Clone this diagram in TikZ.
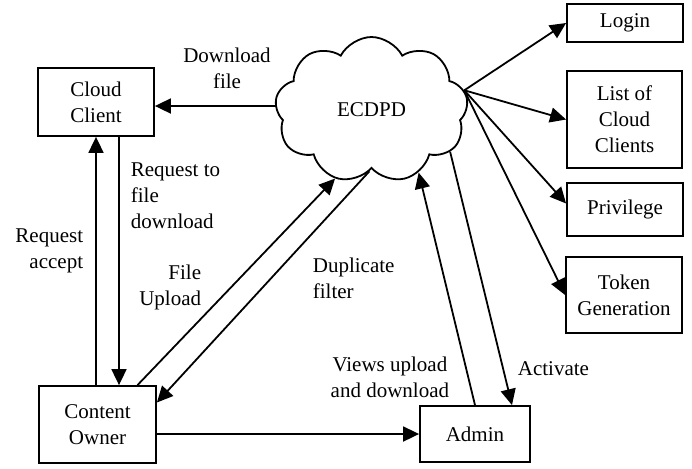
\documentclass[tikz,border=0pt]{standalone}
\usepackage{fontspec}
\setmainfont{Liberation Serif}
\usetikzlibrary{arrows.meta,shapes.symbols}

\tikzset{
  box/.style={draw, align=center, inner sep=2pt},
  lbl/.style={inner sep=0pt},
}

\begin{document}
\begin{tikzpicture}[x=0.5pt, y=-0.5pt, line width=0.9pt,
    >={Triangle[length=8pt,width=7.5pt]},
    font=\fontsize{10.5}{13}\selectfont]
  \useasboundingbox (0,0) rectangle (692,468);

  % the server
  \node[cloud, draw, cloud puffs=9, cloud puff arc=125, cloud ignores aspect,
        minimum width=96.5pt, minimum height=73pt] (ecdpd) at (371.5,110) {ECDPD};

  \node[box, minimum width=58pt, minimum height=34pt] (cc) at (96,102) {Cloud\\Client};
  \node[box, minimum width=58.5pt, minimum height=38.5pt] (co) at (97.5,424.5) {Content\\Owner};
  \node[box, minimum width=55pt, minimum height=28pt] (admin) at (475,434) {Admin};

  \node[box, minimum width=58pt, minimum height=19pt] (login) at (625,23) {Login};
  \node[box, minimum width=57.5pt, minimum height=48.5pt] (list) at (624.5,119.5) {List of\\Cloud\\Clients};
  \node[box, minimum width=58pt, minimum height=26.5pt] (priv) at (625,209.5) {Privilege};
  \node[box, minimum width=58pt, minimum height=38pt] (token) at (624,295) {Token\\Generation};

  \node[lbl, align=center] (dltxt) at (227,68) {Download\\file};
  \node[lbl, align=left, anchor=west] (reqtxt) at (130,196) {Request to\\file\\download};
  \node[lbl, align=right, anchor=east] (acctxt) at (84,251) {Request\\accept};
  \node[lbl, align=right, anchor=east] (futxt) at (202,287) {File\\Upload};
  \node[lbl, align=left, anchor=west] (duptxt) at (312,278) {Duplicate\\filter};
  \node[lbl, align=center, anchor=east] (viewtxt) at (450,377) {Views upload\\and download};
  \node[lbl, anchor=west] (acttxt) at (517,369) {Activate};

  \draw[->] ([yshift=2pt]ecdpd.west) -- ([yshift=2pt]ecdpd.west -| cc.east);
  \draw[->] (co.north -| cc.south) -- (cc.south);
  \draw[->] ([xshift=11.5pt]cc.south) -- ([xshift=11.5pt]cc.south |- co.north);
  \draw[->] ([xshift=20pt]co.north) -- (ecdpd.242);
  \draw[->] (ecdpd.268) -- ([yshift=11pt]co.east);
  \draw[->] (co.east |- admin.west) -- (admin.west);
  \draw[->] (admin.north) -- (ecdpd.307);
  \draw[->] (ecdpd.332) -- ([xshift=18.5pt]admin.north);

  % outgoing modules
  \coordinate (hub) at (ecdpd.12);
  \draw[->] (hub) -- (login.west);
  \draw[->] (hub) -- (list.west);
  \draw[->] (hub) -- ([yshift=3pt]priv.west);
  \draw[->] (hub) -- (token.west);
\end{tikzpicture}
\end{document}
